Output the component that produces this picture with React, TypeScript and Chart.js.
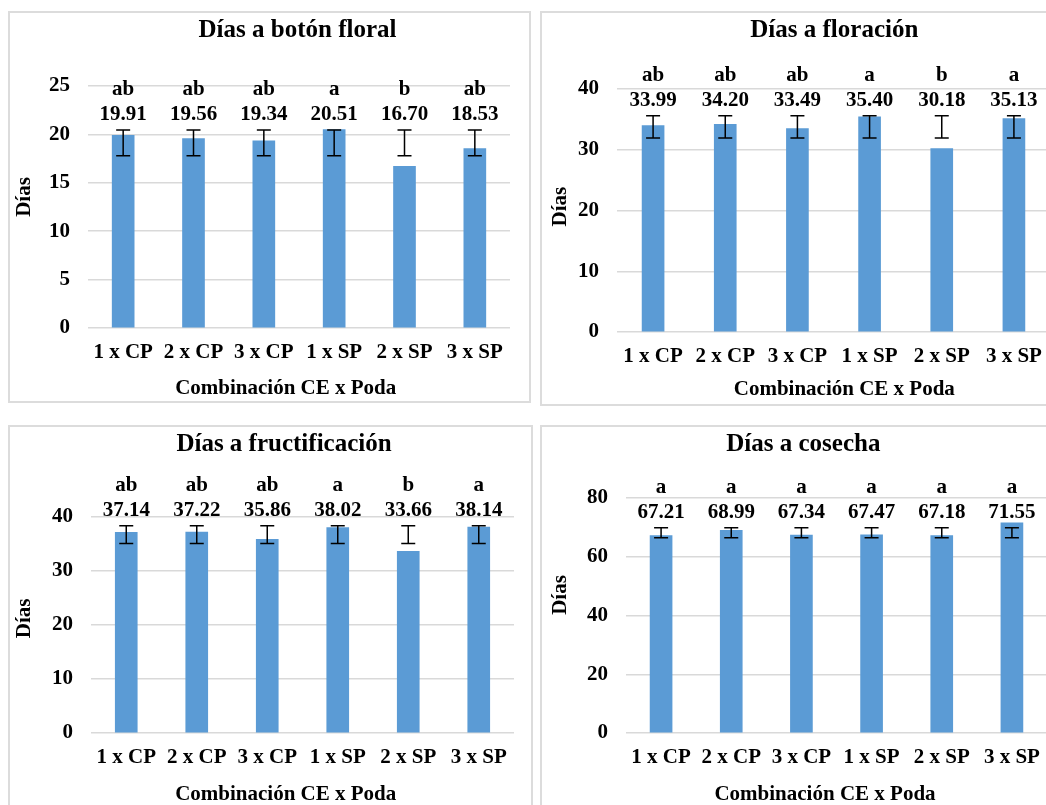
import { useEffect, useRef } from "react";
import { Chart, registerables } from "chart.js";

Chart.register(...registerables);

// Treatment combinations (CE level x pruning)
const categories = ["1 x CP", "2 x CP", "3 x CP", "1 x SP", "2 x SP", "3 x SP"];

// Días a botón floral
const botonValues = [19.91, 19.56, 19.34, 20.51, 16.7, 18.53];
const botonLetters = ["ab", "ab", "ab", "a", "b", "ab"];
const botonErrLow = [17.8, 17.8, 17.8, 17.8, 17.8, 17.8];
const botonErrHigh = [20.45, 20.45, 20.45, 20.45, 20.45, 20.45];

// Días a floración
const floracionValues = [33.99, 34.2, 33.49, 35.4, 30.18, 35.13];
const floracionLetters = ["ab", "ab", "ab", "a", "b", "a"];
const floracionErrLow = [31.93, 31.93, 31.93, 31.93, 31.93, 31.93];
const floracionErrHigh = [35.6, 35.6, 35.6, 35.6, 35.6, 35.6];

// Días a fructificación
const fructValues = [37.14, 37.22, 35.86, 38.02, 33.66, 38.14];
const fructLetters = ["ab", "ab", "ab", "a", "b", "a"];
const fructErrLow = [35.07, 35.07, 35.07, 35.07, 35.07, 35.07];
const fructErrHigh = [38.4, 38.4, 38.4, 38.4, 38.4, 38.4];

// Días a cosecha
const cosechaValues = [67.21, 68.99, 67.34, 67.47, 67.18, 71.55];
const cosechaLetters = ["a", "a", "a", "a", "a", "a"];
const cosechaErrLow = [66.5, 66.5, 66.5, 66.5, 66.5, 66.5];
const cosechaErrHigh = [69.9, 69.9, 69.9, 69.9, 69.9, 69.9];

const yTitle = "Días";
const xTitle = "Combinación CE x Poda";

const FONT = "'Liberation Serif', 'Times New Roman', serif";
const BAR_COLOR = "#5B9BD5";
const GRID_COLOR = "#D9D9D9";

type Box = { left: number; top: number; width: number; height: number };
type Plot = { left: number; right: number; top: number; bottom: number };
type Pt = { x: number; y: number };

type Panel = {
  title: string;
  values: number[];
  letters: string[];
  errLow: number[];
  errHigh: number[];
  yMax: number;
  yStep: number;
  box: Box;
  plot: Plot;
  titlePos: Pt;
  xTitlePos: Pt;
  yTitlePos: Pt;
};

const panels: Panel[] = [
  {
    title: "Días a botón floral",
    values: botonValues,
    letters: botonLetters,
    errLow: botonErrLow,
    errHigh: botonErrHigh,
    yMax: 25,
    yStep: 5,
    box: { left: 8, top: 11, width: 523, height: 392 },
    plot: { left: 88, right: 510, top: 86, bottom: 328 },
    titlePos: { x: 297.5, y: 30.5 },
    xTitlePos: { x: 285.7, y: 388.3 },
    yTitlePos: { x: 25, y: 197 },
  },
  {
    title: "Días a floración",
    values: floracionValues,
    letters: floracionLetters,
    errLow: floracionErrLow,
    errHigh: floracionErrHigh,
    yMax: 40,
    yStep: 10,
    box: { left: 540, top: 11, width: 520, height: 395 },
    plot: { left: 617, right: 1050, top: 89, bottom: 332 },
    titlePos: { x: 834.3, y: 30.5 },
    xTitlePos: { x: 844.3, y: 390 },
    yTitlePos: { x: 561, y: 206.7 },
  },
  {
    title: "Días a fructificación",
    values: fructValues,
    letters: fructLetters,
    errLow: fructErrLow,
    errHigh: fructErrHigh,
    yMax: 40,
    yStep: 10,
    box: { left: 8, top: 425, width: 525, height: 395 },
    plot: { left: 91, right: 514, top: 517, bottom: 733 },
    titlePos: { x: 284, y: 445 },
    xTitlePos: { x: 285.7, y: 795 },
    yTitlePos: { x: 25, y: 618.3 },
  },
  {
    title: "Días a cosecha",
    values: cosechaValues,
    letters: cosechaLetters,
    errLow: cosechaErrLow,
    errHigh: cosechaErrHigh,
    yMax: 80,
    yStep: 20,
    box: { left: 540, top: 425, width: 520, height: 395 },
    plot: { left: 626, right: 1047, top: 498, bottom: 733 },
    titlePos: { x: 803.3, y: 445 },
    xTitlePos: { x: 825, y: 795 },
    yTitlePos: { x: 560.7, y: 595 },
  },
];

// Draws error bars, the value / letter labels and the panel titles.
const decorPlugin = {
  id: "panelDecor",
  afterDatasetsDraw(chart: any, _args: any, opts: any) {
    const p: Panel = opts.panel;
    const ctx: CanvasRenderingContext2D = chart.ctx;
    const yScale = chart.scales.y;
    const meta = chart.getDatasetMeta(0);
    ctx.save();
    ctx.strokeStyle = "#000";
    ctx.lineWidth = 1.5;
    meta.data.forEach((bar: any, i: number) => {
      const x = bar.x;
      const yHi = yScale.getPixelForValue(p.errHigh[i]);
      const yLo = yScale.getPixelForValue(p.errLow[i]);
      ctx.beginPath();
      ctx.moveTo(x, yHi);
      ctx.lineTo(x, yLo);
      ctx.moveTo(x - 7, yHi);
      ctx.lineTo(x + 7, yHi);
      ctx.moveTo(x - 7, yLo);
      ctx.lineTo(x + 7, yLo);
      ctx.stroke();

      ctx.fillStyle = "#000";
      ctx.font = `bold 21px ${FONT}`;
      ctx.textAlign = "center";
      ctx.textBaseline = "alphabetic";
      const base = yHi - 10;
      ctx.fillText(p.values[i].toFixed(2), x, base);
      ctx.fillText(p.letters[i], x, base - 25);
    });
    ctx.restore();
  },
  afterDraw(chart: any, _args: any, opts: any) {
    const p: Panel = opts.panel;
    const ctx: CanvasRenderingContext2D = chart.ctx;
    const ox = p.box.left;
    const oy = p.box.top;
    ctx.save();
    ctx.fillStyle = "#000";
    ctx.textAlign = "center";
    ctx.textBaseline = "middle";
    ctx.font = `bold 25px ${FONT}`;
    ctx.fillText(p.title, p.titlePos.x - ox, p.titlePos.y - oy);
    ctx.font = `bold 21px ${FONT}`;
    ctx.fillText(xTitle, p.xTitlePos.x - ox, p.xTitlePos.y - oy);
    ctx.translate(p.yTitlePos.x - ox, p.yTitlePos.y - oy);
    ctx.rotate(-Math.PI / 2);
    ctx.fillText(yTitle, 0, 0);
    ctx.restore();
  },
};

function BarPanel({ panel }: { panel: Panel }) {
  const ref = useRef<HTMLCanvasElement>(null);

  useEffect(() => {
    if (!ref.current) return;
    const { box, plot } = panel;
    const chart = new Chart(ref.current, {
      type: "bar",
      data: {
        labels: categories,
        datasets: [
          {
            data: panel.values,
            backgroundColor: BAR_COLOR,
            borderWidth: 0,
            barThickness: 22,
          },
        ],
      },
      options: {
        responsive: false,
        animation: false,
        devicePixelRatio: 1,
        layout: {
          padding: {
            top: plot.top - box.top,
            right: box.left + box.width - plot.right,
            left: 0,
            bottom: 0,
          },
        },
        plugins: {
          legend: { display: false },
          tooltip: { enabled: false },
          title: { display: false },
          panelDecor: { panel },
        } as any,
        scales: {
          x: {
            grid: { display: false, drawTicks: false },
            border: { display: false },
            ticks: {
              color: "#000",
              padding: 12,
              font: { family: FONT, size: 21, weight: "bold" },
            },
            afterFit: (s: any) => {
              s.height = box.top + box.height - plot.bottom;
            },
          },
          y: {
            min: 0,
            max: panel.yMax,
            ticks: {
              stepSize: panel.yStep,
              color: "#000",
              padding: 18,
              font: { family: FONT, size: 21, weight: "bold" },
            },
            grid: { color: GRID_COLOR, lineWidth: 1.5, drawTicks: false },
            border: { display: false },
            afterFit: (s: any) => {
              s.width = plot.left - box.left;
            },
          },
        },
      } as any,
      plugins: [decorPlugin],
    });
    return () => chart.destroy();
  }, [panel]);

  const { box } = panel;
  return (
    <>
      <div
        style={{
          position: "absolute",
          left: box.left,
          top: box.top,
          width: box.width,
          height: box.height,
          boxSizing: "border-box",
          border: "2px solid #DCDCDC",
          background: "#fff",
        }}
      />
      <canvas
        ref={ref}
        width={box.width}
        height={box.height}
        style={{
          position: "absolute",
          left: box.left,
          top: box.top,
          width: box.width,
          height: box.height,
        }}
      />
    </>
  );
}

export default function App() {
  return (
    <div
      style={{
        position: "absolute",
        left: 0,
        top: 0,
        width: 1046,
        height: 805,
        overflow: "hidden",
        background: "#fff",
      }}
    >
      {panels.map((p) => (
        <BarPanel key={p.title} panel={p} />
      ))}
    </div>
  );
}
